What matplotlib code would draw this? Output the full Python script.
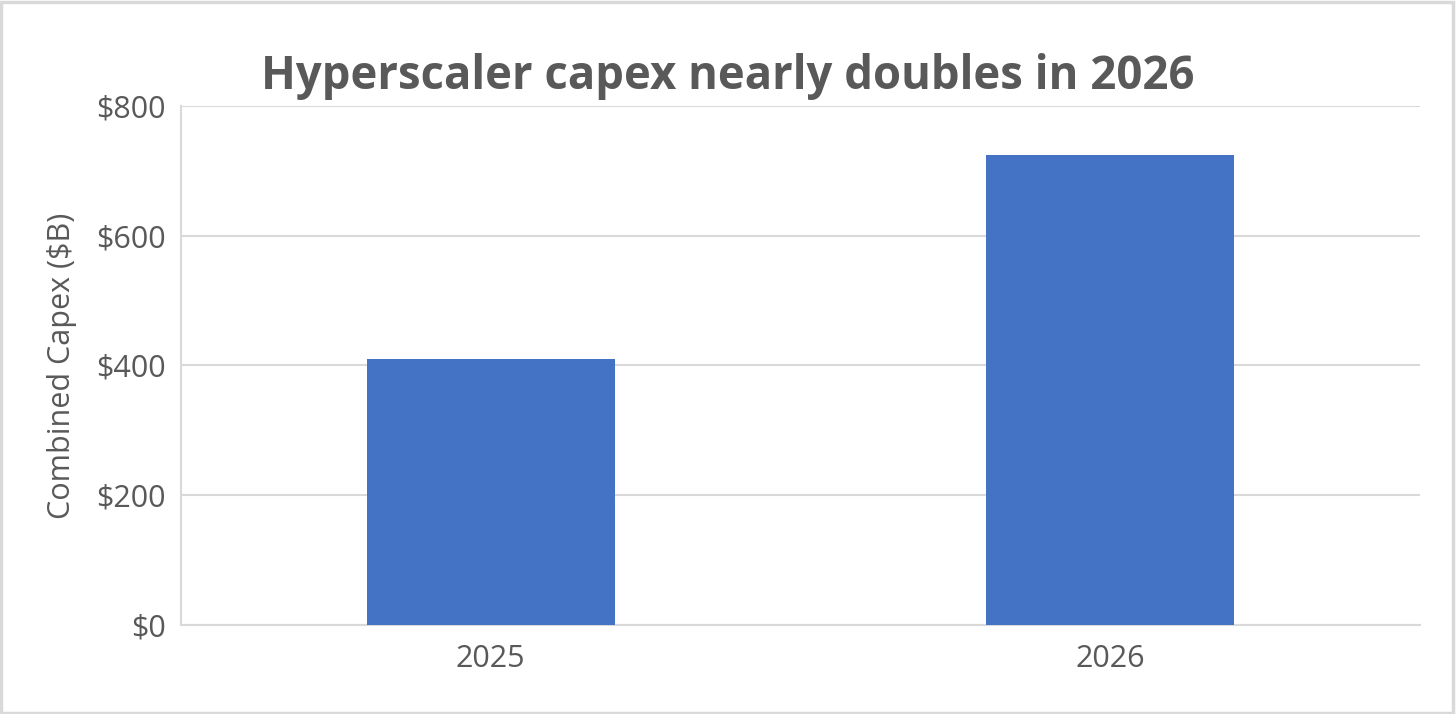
import matplotlib
matplotlib.use("Agg")
import matplotlib.pyplot as plt
from matplotlib.patches import Rectangle

# values ($B)
years = ["2025", "2026"]
capex = [410, 725]
y_ticks = [0, 200, 400, 600, 800]
y_labels = ["$0", "$200", "$400", "$600", "$800"]

text_col = "#595959"
grid_col = "#d9d9d9"
bar_col = "#4472c4"

plt.rcParams["font.family"] = ["Open Sans", "DejaVu Sans"]

fig = plt.figure(figsize=(14.56, 7.14), dpi=100)
ax = fig.add_axes([0.1243, 0.1246, 0.851, 0.727])

x = range(len(years))
ax.bar(x, capex, width=0.4, color=bar_col, zorder=3)

ax.set_xlim(-0.5, len(years) - 0.5)
ax.set_ylim(0, 800)
ax.set_xticks(list(x))
ax.set_xticklabels(years)
ax.set_yticks(y_ticks)
ax.set_yticklabels(y_labels)
ax.tick_params(axis="both", length=0, labelsize=22, colors=text_col)
ax.tick_params(axis="y", pad=11)
ax.tick_params(axis="x", pad=14)

ax.grid(axis="y", color=grid_col, linewidth=1.5, zorder=0)
for side in ["top", "right"]:
    ax.spines[side].set_visible(False)
for side in ["left", "bottom"]:
    ax.spines[side].set_color(grid_col)
    ax.spines[side].set_linewidth(1.5)

ax.set_ylabel("Combined Capex ($B)", fontsize=22, color=text_col, labelpad=14)

fig.text(0.5, 0.893, "Hyperscaler capex nearly doubles in 2026", ha="center",
         va="center", fontsize=32.8, fontweight="bold", color=text_col)

# light grey frame round the whole picture
fig.patches.append(Rectangle((0.001, 0.002), 0.997, 0.995, transform=fig.transFigure,
                             fill=False, edgecolor=grid_col, linewidth=2.5))

fig.savefig("out.png", dpi=100)
